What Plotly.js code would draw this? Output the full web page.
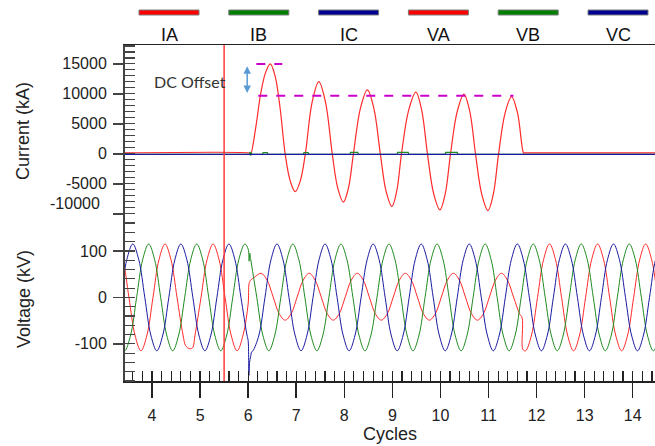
<!DOCTYPE html>
<html>
<head>
<meta charset="utf-8">
<script src="https://cdn.plot.ly/plotly-3.0.1.min.js"></script>
<style>html,body{margin:0;padding:0;background:#fff;}#chart{width:655px;height:446px;}</style>
</head>
<body>
<div id="chart"></div>
<script>
// ---------- data ----------
const seriesNames = ['IA', 'IB', 'IC', 'VA', 'VB', 'VC'];

// Current (kA) vs cycles: [cycle, value]
const IA = [[3.3,150],[6.05,150],[6.06,100],[6.16,4500],[6.26,10000],[6.36,13500],[6.46,15000],[6.56,13000],[6.665,7600],[6.77,0],[6.875,-4500],[6.98,-6300],[7.085,-4500],[7.19,0],[7.33,8600],[7.47,12050],[7.61,8600],[7.75,0],[7.865,-5750],[7.98,-8050],[8.085,-5750],[8.19,0],[8.335,7600],[8.48,10670],[8.615,7600],[8.75,0],[8.87,-6250],[8.99,-8780],[9.09,-6250],[9.19,0],[9.34,7300],[9.49,10280],[9.61,7300],[9.73,0],[9.86,-6650],[9.99,-9330],[10.10,-6650],[10.21,0],[10.35,7080],[10.49,9950],[10.61,7080],[10.73,0],[10.86,-6730],[10.99,-9450],[11.10,-6730],[11.21,0],[11.345,6800],[11.48,9560],[11.605,6800],[11.73,150],[11.75,150],[14.6,150]];
const IB = [[3.3,-60],[6.03,-60],[6.04,350],[6.05,-300],[6.06,200],[6.08,-60],[6.3,-60],[6.31,200],[6.40,200],[6.41,-60],[7.15,-60],[7.16,200],[7.25,200],[7.26,-60],[8.12,-60],[8.13,250],[8.28,250],[8.29,-60],[9.10,-60],[9.11,250],[9.33,250],[9.34,-60],[10.10,-60],[10.11,250],[10.35,250],[10.36,-60],[14.6,-60]];
const IC = [[3.3,-100],[14.6,-100]];

// Voltage (kV) vs cycles: [cycle, value]
const VA = [[3.27,115],[3.395,81],[3.52,0],[3.645,-81],[3.77,-115],[3.895,-81],[4.02,0],[4.145,81],[4.27,115],[4.395,81],[4.52,0],[4.645,-81],[4.70,-104],[4.77,-110],[4.84,-109],[4.895,-81],[5.02,0],[5.145,81],[5.27,115],[5.395,81],[5.52,0],[5.645,-81],[5.77,-115],[5.895,-81],[6.0,-14],[6.02,30],[6.05,37],[6.15,45],[6.27,52],[6.395,37],[6.52,1],[6.645,-35],[6.77,-49],[6.895,-35],[7.02,1],[7.145,37],[7.27,52],[7.395,37],[7.52,1],[7.645,-35],[7.77,-49],[7.895,-35],[8.02,1],[8.145,37],[8.27,52],[8.395,37],[8.52,1],[8.645,-35],[8.77,-49],[8.895,-35],[9.02,1],[9.145,37],[9.27,52],[9.395,37],[9.52,1],[9.645,-35],[9.77,-49],[9.895,-35],[10.02,1],[10.145,37],[10.27,52],[10.395,37],[10.52,1],[10.645,-35],[10.77,-49],[10.895,-35],[11.02,1],[11.145,37],[11.27,52],[11.395,37],[11.52,1],[11.645,-35],[11.70,-44],[11.715,-112],[11.77,-115],[11.895,-81],[12.02,0],[12.145,81],[12.27,115],[12.395,81],[12.52,0],[12.645,-81],[12.77,-115],[12.895,-81],[13.02,0],[13.145,81],[13.27,115],[13.395,81],[13.52,0],[13.645,-81],[13.77,-115],[13.895,-81],[14.02,0],[14.145,81],[14.27,115],[14.395,81],[14.52,0],[14.645,-81]];
const VB = [[3.18,0],[3.305,-81],[3.43,-115],[3.555,-81],[3.68,0],[3.805,81],[3.93,115],[4.055,81],
[4.18,0],[4.305,-81],[4.43,-115],[4.555,-81],[4.68,0],[4.805,81],[4.93,115],[5.055,81],
[5.18,0],[5.305,-81],[5.43,-115],[5.555,-81],[5.68,0],[5.805,81],[5.93,115],[6.0,104],[6.02,78],[6.035,95],[6.055,81],
[6.18,0],[6.305,-81],[6.43,-115],[6.555,-81],[6.68,0],[6.805,81],[6.93,115],[7.055,81],
[7.18,0],[7.305,-81],[7.43,-115],[7.555,-81],[7.68,0],[7.805,81],[7.93,115],[8.055,81],
[8.18,0],[8.305,-81],[8.43,-115],[8.555,-81],[8.68,0],[8.805,81],[8.93,115],[9.055,81],
[9.18,0],[9.305,-81],[9.43,-115],[9.555,-81],[9.68,0],[9.805,81],[9.93,115],[10.055,81],
[10.18,0],[10.305,-81],[10.43,-115],[10.555,-81],[10.68,0],[10.805,81],[10.93,115],[11.055,81],
[11.18,0],[11.305,-81],[11.43,-115],[11.555,-81],[11.68,0],[11.805,81],[11.93,115],[12.055,81],
[12.18,0],[12.305,-81],[12.43,-115],[12.555,-81],[12.68,0],[12.805,81],[12.93,115],[13.055,81],
[13.18,0],[13.305,-81],[13.43,-115],[13.555,-81],[13.68,0],[13.805,81],[13.93,115],[14.055,81],
[14.18,0],[14.305,-81],[14.43,-115],[14.555,-81],[14.68,0]];
const VC = [[3.10,-115],[3.225,-81],[3.35,0],[3.475,81],[3.60,115],[3.725,81],[3.85,0],[3.975,-81],
[4.10,-115],[4.225,-81],[4.35,0],[4.475,81],[4.60,115],[4.725,81],[4.85,0],[4.975,-81],
[5.10,-115],[5.225,-81],[5.35,0],[5.475,81],[5.60,115],[5.725,81],[5.85,0],[5.975,-81],[6.0,-93],[6.015,-168],[6.03,-140],[6.05,-128],[6.075,-117],
[6.10,-115],[6.225,-81],[6.35,0],[6.475,81],[6.60,115],[6.725,81],[6.85,0],[6.975,-81],
[7.10,-115],[7.225,-81],[7.35,0],[7.475,81],[7.60,115],[7.725,81],[7.85,0],[7.975,-81],
[8.10,-115],[8.225,-81],[8.35,0],[8.475,81],[8.60,115],[8.725,81],[8.85,0],[8.975,-81],
[9.10,-115],[9.225,-81],[9.35,0],[9.475,81],[9.60,115],[9.725,81],[9.85,0],[9.975,-81],
[10.10,-115],[10.225,-81],[10.35,0],[10.475,81],[10.60,115],[10.725,81],[10.85,0],[10.975,-81],
[11.10,-115],[11.225,-81],[11.35,0],[11.475,81],[11.60,115],[11.725,81],[11.85,0],[11.975,-81],
[12.10,-115],[12.225,-81],[12.35,0],[12.475,81],[12.60,115],[12.725,81],[12.85,0],[12.975,-81],
[13.10,-115],[13.225,-81],[13.35,0],[13.475,81],[13.60,115],[13.725,81],[13.85,0],[13.975,-81],
[14.10,-115],[14.225,-81],[14.35,0],[14.475,81],[14.60,115],[14.725,81]];

// Axis ticks
const cycleRange = [3.438, 14.464];
const currentTicks = [-10000, -5000, 0, 5000, 10000, 15000];
const currentTickText = ['', '-5000', '0', '5000', '10000', '15000'];
const voltageTicks = [-100, 0, 100];
const voltageTickText = ['-100', '0', '100'];

// Annotations data
const faultCycle = 5.5;
const dcPeakX = [6.17, 6.71];
const dcPeakLevel = 15000;
const dcSteadyX = [6.21, 11.52];
const dcSteadyLevel = 9700;
const dcArrowX = 5.98;
const dcArrowY = [14600, 9900];
const dcLabelPos = [4.79, 12040];
const lowLabel = '-10000';
const lowLabelY = -8190;

// ---------- styles ----------
const FONT = 'Liberation Sans, Arial, sans-serif';
const lineColors = ['#ff2a2a', '#1f8a1f', '#1a1aa0', '#ff2a2a', '#1f8a1f', '#1a1aa0'];
const barColors = ['#ff0000', '#008000', '#000090', '#ff0000', '#008000', '#000090'];

function xs(a) { return a.map(p => p[0]); }
function ys(a) { return a.map(p => p[1]); }

const currentSeries = [IA, IB, IC];
const voltageSeries = [VA, VB, VC];
const traces = [];
currentSeries.forEach((s, i) => {
  traces.push({
    type: 'scatter', mode: 'lines', name: seriesNames[i],
    x: xs(s), y: ys(s), xaxis: 'x2', yaxis: 'y2',
    line: {color: lineColors[i], width: i === 0 ? 1.2 : 1.2, shape: i === 0 ? 'spline' : 'linear', smoothing: 1},
    hoverinfo: 'skip'
  });
});
voltageSeries.forEach((s, i) => {
  traces.push({
    type: 'scatter', mode: 'lines', name: seriesNames[i + 3],
    x: xs(s), y: ys(s), xaxis: 'x', yaxis: 'y',
    line: {color: lineColors[i + 3], width: 1, shape: 'spline', smoothing: 1},
    hoverinfo: 'skip'
  });
});

const shapes = [];
const annotations = [];
// legend bars + labels
const plotLeft = 125, plotW = 530, plotBottom = 381, plotH = 336;
seriesNames.forEach((n, i) => {
  const left = (14 + 89.8 * i) / plotW;
  const w = 60 / plotW;
  shapes.push({type: 'rect', xref: 'paper', yref: 'paper', x0: left, x1: left + w,
    y0: (plotBottom - 15) / plotH, y1: (plotBottom - 10) / plotH,
    fillcolor: barColors[i], line: {color: '#7a7a7a', width: 1}});
  annotations.push({xref: 'paper', yref: 'paper', x: left + w / 2, y: (plotBottom - 35) / plotH,
    text: n, showarrow: false, xanchor: 'center', yanchor: 'middle',
    font: {family: FONT, size: 18, color: '#111'}});
});
// fault marker
shapes.push({type: 'line', xref: 'x', yref: 'paper', x0: faultCycle, x1: faultCycle, y0: 0, y1: 1,
  line: {color: '#ff3b3b', width: 1.5}});
// DC offset dashed levels
shapes.push({type: 'line', xref: 'x2', yref: 'y2', x0: dcPeakX[0], x1: dcPeakX[1], y0: dcPeakLevel, y1: dcPeakLevel,
  line: {color: '#cc00cc', width: 2, dash: 'dash'}});
shapes.push({type: 'line', xref: 'x2', yref: 'y2', x0: dcSteadyX[0], x1: dcSteadyX[1], y0: dcSteadyLevel, y1: dcSteadyLevel,
  line: {color: '#cc00cc', width: 2, dash: 'dash'}});
// DC arrow
annotations.push({xref: 'x2', yref: 'y2', axref: 'x2', ayref: 'y2', x: dcArrowX, y: dcArrowY[0], ax: dcArrowX, ay: dcArrowY[1],
  text: '', showarrow: true, arrowhead: 2, startarrowhead: 2, arrowside: 'end+start', arrowsize: 1, startarrowsize: 1,
  arrowwidth: 1.5, arrowcolor: '#5b9bd5', standoff: 0, startstandoff: 0});
annotations.push({xref: 'x2', yref: 'y2', x: dcLabelPos[0], y: dcLabelPos[1], text: 'DC Offset', showarrow: false,
  font: {family: 'Lato, Carlito, sans-serif', size: 16, color: '#333'}});
// misplaced -10000 tick label
annotations.push({xref: 'paper', yref: 'y2', x: (102 - plotLeft) / plotW, y: lowLabelY, text: lowLabel, showarrow: false,
  xanchor: 'right', yanchor: 'middle', font: {family: FONT, size: 16, color: '#222'}});

const yCommon = {
  showline: true, linecolor: '#444', linewidth: 2, showgrid: false, zeroline: false,
  ticks: 'outside', ticklen: 10, tickwidth: 1.5, tickcolor: '#444', ticklabelstandoff: 3,
  tickfont: {family: FONT, size: 16, color: '#222'}, tickmode: 'array'
};

const layout = {
  width: 655, height: 446,
  margin: {l: 125, r: 0, t: 45, b: 65},
  paper_bgcolor: '#fff', plot_bgcolor: '#fff',
  showlegend: false,
  xaxis: {
    domain: [0, 1], anchor: 'y', range: cycleRange,
    tickmode: 'linear', tick0: 0, dtick: 1,
    ticks: 'outside', ticklen: 15, tickwidth: 1.5, tickcolor: '#222',
    minor: {ticks: 'inside', ticklen: 10, tickmode: 'linear', tick0: 0, dtick: 0.2, tickcolor: '#222', tickwidth: 1.2},
    showline: true, linecolor: '#222', linewidth: 1.5, showgrid: false, zeroline: false,
    tickfont: {family: FONT, size: 16, color: '#222'}, ticklabelstandoff: 4,
    title: {text: 'Cycles', font: {family: FONT, size: 18, color: '#222'}, standoff: 4}
  },
  xaxis2: {
    anchor: 'y2', matches: 'x', side: 'top', showticklabels: false, ticks: '',
    showline: true, linecolor: '#222', linewidth: 1.5, showgrid: false, zeroline: false
  },
  yaxis: Object.assign({}, yCommon, {
    domain: [0, 0.488], anchor: 'x', range: [-180, 173],
    tickvals: voltageTicks, ticktext: voltageTickText,
    minor: {ticks: 'inside', ticklen: 10, tickmode: 'linear', tick0: 0, dtick: 20, tickcolor: '#444', tickwidth: 1.2},
    title: {text: 'Voltage (kV)', font: {family: FONT, size: 18, color: '#222'}, standoff: 39}
  }),
  yaxis2: Object.assign({}, yCommon, {
    domain: [0.488, 1], anchor: 'x2', range: [-10530, 18150],
    tickvals: currentTicks, ticktext: currentTickText,
    minor: {ticks: 'inside', ticklen: 10, tickmode: 'linear', tick0: 0, dtick: 1000, tickcolor: '#444', tickwidth: 1.2},
    title: {text: 'Current (kA)', font: {family: FONT, size: 18, color: '#222'}, standoff: 28}
  }),
  shapes: shapes,
  annotations: annotations
};

Plotly.newPlot('chart', traces, layout, {staticPlot: true, displayModeBar: false});
</script>
</body>
</html>
